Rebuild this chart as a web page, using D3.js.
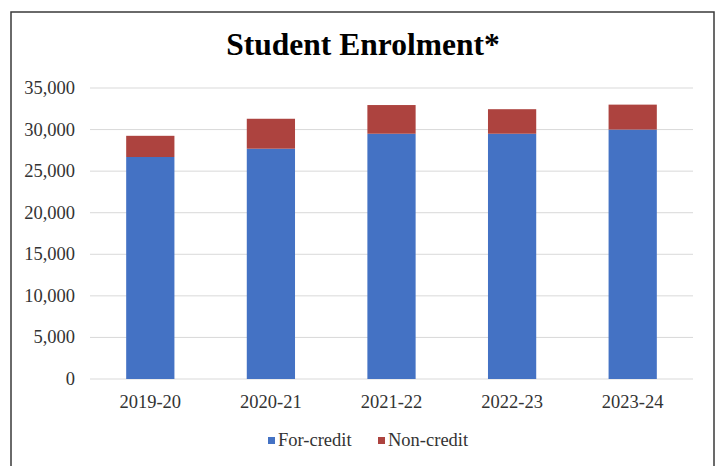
<!DOCTYPE html>
<html>
<head>
<meta charset="utf-8">
<script src="https://cdn.jsdelivr.net/npm/d3@7"></script>
<style>
  body { margin: 0; background: #fff; }
  text { font-family: "Liberation Serif", "Times New Roman", serif; }
</style>
</head>
<body>
<svg width="717" height="466"></svg>
<script>
// Data
let years = ["2019-20", "2020-21", "2021-22", "2022-23", "2023-24"];
let forCredit = [26700, 27700, 29500, 29500, 30000];
let nonCredit = [2550, 3600, 3450, 2950, 3000];
let yTicks = [0, 5000, 10000, 15000, 20000, 25000, 30000, 35000];
let seriesNames = ["For-credit", "Non-credit"];
let colors = ["#4472c4", "#ad433f"];

let svg = d3.select("svg");

// outer frame
svg.append("rect")
  .attr("x", 11).attr("y", 12)
  .attr("width", 703).attr("height", 470)
  .attr("fill", "none")
  .attr("stroke", "#3a3a3a")
  .attr("stroke-width", 1.5);

// title
svg.append("text")
  .attr("x", 363).attr("y", 55)
  .attr("text-anchor", "middle")
  .attr("font-size", 31.5)
  .attr("font-weight", "bold")
  .attr("fill", "#000")
  .text("Student Enrolment*");

// scales
let x = d3.scaleBand().domain(years).range([90, 693]).paddingInner(0.6).paddingOuter(0.3);
let y = d3.scaleLinear().domain([0, 35000]).range([379, 88]);

// gridlines
svg.append("g")
  .selectAll("line")
  .data(yTicks)
  .enter()
  .append("line")
  .attr("x1", 90).attr("x2", 693)
  .attr("y1", d => y(d)).attr("y2", d => y(d))
  .attr("stroke", "#d9d9d9")
  .attr("stroke-width", 1);

// y axis labels
let fmt = d3.format(",");
svg.append("g")
  .selectAll("text")
  .data(yTicks)
  .enter()
  .append("text")
  .attr("x", 75)
  .attr("y", d => y(d) + 6)
  .attr("text-anchor", "end")
  .attr("font-size", 18.5)
  .attr("fill", "#333")
  .text(d => fmt(d));

// stacked bars
let rows = years.map((yr, i) => ({ year: yr, "For-credit": forCredit[i], "Non-credit": nonCredit[i] }));
let stacked = d3.stack().keys(seriesNames)(rows);

svg.append("g")
  .selectAll("g")
  .data(stacked)
  .enter()
  .append("g")
  .attr("fill", (d, i) => colors[i])
  .selectAll("rect")
  .data(d => d)
  .enter()
  .append("rect")
  .attr("x", d => x(d.data.year))
  .attr("width", x.bandwidth())
  .attr("y", d => y(d[1]))
  .attr("height", d => y(d[0]) - y(d[1]));

// x axis labels
svg.append("g")
  .selectAll("text")
  .data(years)
  .enter()
  .append("text")
  .attr("x", d => x(d) + x.bandwidth() / 2)
  .attr("y", 408)
  .attr("text-anchor", "middle")
  .attr("font-size", 18.5)
  .attr("fill", "#333")
  .text(d => d);

// legend
let legendItems = [
  { name: "For-credit", color: colors[0], x: 268 },
  { name: "Non-credit", color: colors[1], x: 378 }
];
let lg = svg.append("g")
  .selectAll("g")
  .data(legendItems)
  .enter()
  .append("g")
  .attr("transform", d => `translate(${d.x},0)`);
lg.append("rect")
  .attr("x", 0).attr("y", 437)
  .attr("width", 7).attr("height", 7)
  .attr("fill", d => d.color);
lg.append("text")
  .attr("x", 10).attr("y", 446)
  .attr("font-size", 18.5)
  .attr("fill", "#333")
  .text(d => d.name);
</script>
</body>
</html>
